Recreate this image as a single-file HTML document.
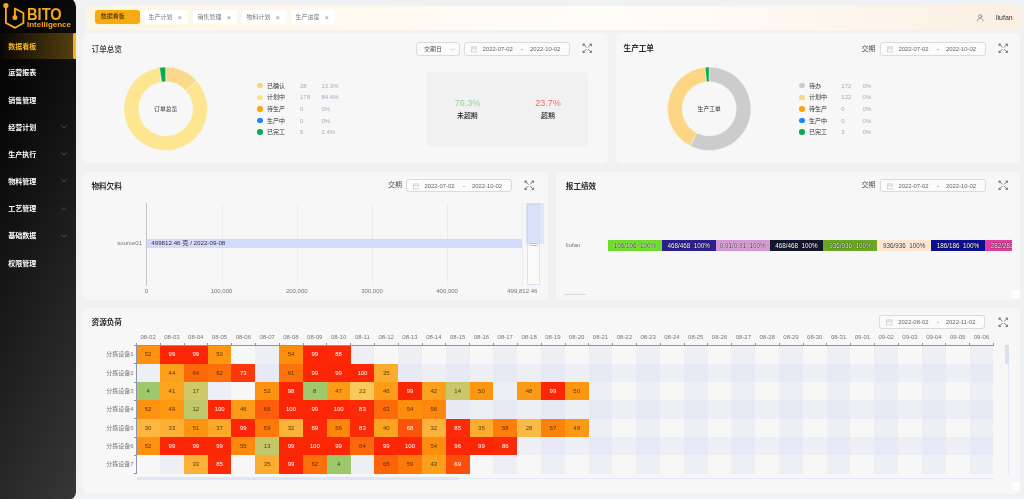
<!DOCTYPE html>
<html lang="zh-CN"><head><meta charset="utf-8"><title>BITO Intelligence</title>
<style>
*{box-sizing:border-box;margin:0;padding:0}
html,body{width:1024px;height:499px;overflow:hidden}
body{position:relative;background:#f0f1f3;font-family:"Liberation Sans","Noto Sans CJK SC",sans-serif;color:#333;font-size:6px;line-height:1}
.abs{position:absolute}
div,span,i,svg{position:absolute}
.side{left:0;top:-3px;width:75.8px;height:503px;background:linear-gradient(114.6deg,#060606 0%,#060606 17%,#373737 100%);border-top-right-radius:10px;border-bottom-right-radius:8px;overflow:hidden}
.bito{left:26.8px;top:9.1px;font-size:16px;font-weight:bold;color:#f5a816;letter-spacing:0;transform:scaleX(0.915);transform-origin:0 0;line-height:18px}
.intel{left:27px;top:22.6px;font-size:8px;font-weight:bold;color:#f5a816;line-height:10px}
.mact{left:0;width:75.8px;height:26.4px;background:linear-gradient(90deg,#090806 0%,#2a1f08 40%,#57410f 100%)}
.mbar{left:72.9px;width:2.9px;height:26.4px;background:#f5b01e;border-radius:1.5px 0 0 1.5px}
.mi{left:8.3px;font-size:7px;font-weight:bold;color:#fff;line-height:12px;white-space:nowrap}
.mi.act{color:#f8b820}
.hdr{left:86.5px;top:5.5px;width:934px;height:24.2px;border-radius:4px;background:linear-gradient(90deg,#fdf6e1 0%,#fef9ee 25%,#fffdfa 55%,#fdf6ee 80%,#fbefe2 100%);box-shadow:0 0 3px rgba(255,250,235,.9)}
.tab{top:9.9px;width:44.5px;height:13.9px;border-radius:3px;background:#fff;color:#7a7a7a;font-size:6px;line-height:13.9px;white-space:nowrap}
.tab span{left:4.8px;top:0.8px}
.tab i{left:34px;top:1.5px;font-style:normal;font-size:7px;color:#8a8a8a;font-weight:normal}
.tab.tact{background:#f6ab13;color:#3a2a05;width:45px}
.tab.tact span{left:6px;top:-0.2px}
.user{left:996px;top:13px;font-size:7px;line-height:10px;color:#333}
.card{background:#f7f7f7;border-radius:5px}
.ttl{font-size:7.6px;font-weight:bold;color:#2b2b2b;line-height:12px;white-space:nowrap}
.ttl.n{font-weight:500;color:#333}
.dp{border:0.6px solid #d9dbe0;border-radius:3px;background:#fbfbfb;color:#666;font-size:5.9px;line-height:12.6px;white-space:nowrap}
.dp .cal{left:6px;top:3.2px}
.dp .d1{left:18px;top:0}
.dp .ds{left:56.5px;top:0}
.dp .d2{left:65.5px;top:0}
.sel{border:0.6px solid #d9dbe0;border-radius:3px;background:#fbfbfb;color:#555;font-size:6px;line-height:12.6px}
.lbl{font-size:7px;color:#555;line-height:12px;white-space:nowrap}
.ld{width:5.6px;height:5.6px;border-radius:50%}
.lt{font-size:6px;line-height:10px;color:#333;white-space:nowrap}
.ln{font-size:6px;line-height:10px;color:#a3abbb;white-space:nowrap}
.kpi{left:427px;top:72px;width:161.4px;height:74px;border-radius:4px;background:#f1f1f1}
.kv{font-size:9px;line-height:12px;width:60px;text-align:center;white-space:nowrap}
.kl{font-size:6.9px;line-height:10px;width:60px;text-align:center;color:#222;font-weight:500;white-space:nowrap}
.ctr{font-size:5.8px;line-height:10px;width:60px;text-align:center;color:#333;white-space:nowrap}
.gl{width:0.5px;background:#ebecf1;top:203px;height:82.5px}
.axl{font-size:6px;line-height:10px;color:#777;width:60px;text-align:center;white-space:nowrap}
.seg{top:240px;width:53.9px;height:11.2px;font-size:6.3px;line-height:11.2px;text-align:center;color:#333;white-space:pre;text-shadow:0 0 1px #fff,0 0 1px #fff}
.seg.sw{color:#fff;text-shadow:0 0 1px #000,0 0 1px #000}
.band{background:rgba(208,213,242,0.21)}
.cell{width:23.86px;height:18.4px;font-size:6px;line-height:18.4px;text-align:center;color:rgba(60,40,10,.85)}
.cell.w{color:#fff}
.xl{top:332px;width:23.85px;text-align:center;font-size:6px;line-height:10px;color:#777;white-space:nowrap}
.xt{top:342.5px;width:0.5px;height:2.5px;background:#8d93a8}
.yl{left:80px;width:53.6px;height:18.4px;line-height:18.4px;text-align:right;font-size:6px;color:#777;white-space:nowrap}
.yt{left:134.2px;width:2.3px;height:0.5px;background:#8d93a8}
</style></head><body><div id="wrap" style="left:-10px;top:-10px;width:1044px;height:519px;filter:blur(0.35px)"><div style="left:10px;top:10px;width:1024px;height:499px">
<!-- sidebar -->
<div class="side">
<svg class="abs" style="left:0;top:3px" width="30" height="32" viewBox="0 0 30 32" fill="none" stroke="#f5a816" stroke-width="1.9" stroke-linejoin="round" stroke-linecap="round"><path d="M5.9 8V23L15.2 27.8L23.4 23V13L14.9 8.5V16"/><circle cx="5.9" cy="5.6" r="2" fill="#f5a816" stroke-width="1.3"/><circle cx="14.9" cy="17.6" r="1.9" fill="#f5a816" stroke-width="1.2"/></svg>
<div class="bito">BITO</div>
<div class="intel">Intelligence</div>
<div class="mact" style="top:35.6px"></div><div class="mbar" style="top:35.6px"></div>
<div class="mi act" style="top:44.0px">数据看板</div>
<div class="mi" style="top:70.4px">运营报表</div>
<div class="mi" style="top:97.6px">销售管理</div>
<div class="mi" style="top:124.6px">经营计划</div>
<svg class="abs" style="left:61px;top:128.0px" width="6" height="4" viewBox="0 0 12 8" fill="none" stroke="#5a5a5a" stroke-width="1.6" stroke-linecap="round" stroke-linejoin="round"><path d="M1.5 1.5L6 6L10.5 1.5"/></svg>
<div class="mi" style="top:151.8px">生产执行</div>
<svg class="abs" style="left:61px;top:155.2px" width="6" height="4" viewBox="0 0 12 8" fill="none" stroke="#5a5a5a" stroke-width="1.6" stroke-linecap="round" stroke-linejoin="round"><path d="M1.5 1.5L6 6L10.5 1.5"/></svg>
<div class="mi" style="top:179.0px">物料管理</div>
<svg class="abs" style="left:61px;top:182.4px" width="6" height="4" viewBox="0 0 12 8" fill="none" stroke="#5a5a5a" stroke-width="1.6" stroke-linecap="round" stroke-linejoin="round"><path d="M1.5 1.5L6 6L10.5 1.5"/></svg>
<div class="mi" style="top:206.2px">工艺管理</div>
<svg class="abs" style="left:61px;top:209.6px" width="6" height="4" viewBox="0 0 12 8" fill="none" stroke="#5a5a5a" stroke-width="1.6" stroke-linecap="round" stroke-linejoin="round"><path d="M1.5 1.5L6 6L10.5 1.5"/></svg>
<div class="mi" style="top:233.4px">基础数据</div>
<svg class="abs" style="left:61px;top:236.8px" width="6" height="4" viewBox="0 0 12 8" fill="none" stroke="#5a5a5a" stroke-width="1.6" stroke-linecap="round" stroke-linejoin="round"><path d="M1.5 1.5L6 6L10.5 1.5"/></svg>
<div class="mi" style="top:260.6px">权限管理</div>
</div>
<!-- header -->
<div class="hdr"></div>
<div class="tab tact" style="left:94.7px"><span>数据看板</span></div>
<div class="tab" style="left:143.7px"><span>生产计划</span><i>×</i></div>
<div class="tab" style="left:192.7px"><span>销售管理</span><i>×</i></div>
<div class="tab" style="left:241.7px"><span>物料计划</span><i>×</i></div>
<div class="tab" style="left:290.7px"><span>生产进度</span><i>×</i></div>
<svg class="abs" style="left:977px;top:14.2px" width="6.5" height="7.5" viewBox="0 0 13 15" fill="none" stroke="#777" stroke-width="1.4" stroke-linecap="round"><circle cx="6.5" cy="4.6" r="3.2"/><path d="M1.2 14V12.5C1.2 10 3.5 8.6 6.5 8.6S11.8 10 11.8 12.5V14"/></svg>
<div class="user">liufan</div>

<!-- card 1 -->
<div class="card" style="left:83.3px;top:33px;width:524.5px;height:129.5px"></div>
<div class="ttl n" style="left:91.6px;top:43.6px">订单总览</div>
<div class="sel" style="left:416.4px;top:42px;width:43.2px;height:13.6px"><span style="left:6.5px;top:0">交期日</span><svg class="abs" style="left:32.5px;top:4.6px" width="5" height="3.4" viewBox="0 0 10 7" fill="none" stroke="#c0c4cc" stroke-width="1.4" stroke-linecap="round" stroke-linejoin="round"><path d="M1 1L5 5.5L9 1"/></svg></div>
<div class="dp" style="left:463.6px;top:42px;width:106.2px;height:13.6px"><svg class="cal" width="6.5" height="6.5" viewBox="0 0 13 13" fill="none" stroke="#c3c6cc" stroke-width="1.3"><rect x="1" y="2" width="11" height="10"/><path d="M1 5.5H12M4 0.5V3M9 0.5V3"/></svg><span class="d1">2022-07-02</span><span class="ds">-</span><span class="d2">2022-10-02</span></div>
<svg class="abs" style="left:582.3px;top:43.2px" width="10.5" height="10.5" viewBox="0 0 20 20" fill="none" stroke="#7f8286" stroke-width="1.9" stroke-linecap="round" stroke-linejoin="round"><path d="M2.4 2.4L8 8M17.6 2.4L12 8M2.4 17.6L8 12M17.6 17.6L12 12"/><path d="M2.2 4.6V2.2H4.6M15.4 2.2H17.8V4.6M2.2 15.4V17.8H4.6M15.4 17.8H17.8V15.4" stroke-width="2.6"/></svg>
<svg class="abs" style="left:0;top:0" width="1024" height="499" viewBox="0 0 1024 499">
<path d="M165.70 67.10A41.7 41.7 0 0 1 196.58 80.77L185.77 90.59A27.1 27.1 0 0 0 165.70 81.70Z" fill="#fbd98c" stroke="#f7f7f7" stroke-width="0.5"/>
<path d="M196.58 80.77A41.7 41.7 0 1 1 159.51 67.56L161.68 82.00A27.1 27.1 0 1 0 185.77 90.59Z" fill="#fde68f" stroke="#f7f7f7" stroke-width="0.5"/>
<path d="M159.51 67.56A41.7 41.7 0 0 1 165.70 67.10L165.70 81.70A27.1 27.1 0 0 0 161.68 82.00Z" fill="#0bab4f" stroke="#f7f7f7" stroke-width="0.5"/>
</svg>
<div class="ctr" style="left:135.7px;top:103.6px">订单总览</div>
<div class="ld" style="left:257.2px;top:82.8px;background:#fdd27a"></div>
<div class="lt" style="left:267.0px;top:80.6px">已确认</div>
<div class="ln" style="left:300.0px;top:80.6px">28</div>
<div class="ln" style="left:321.5px;top:80.6px">13.3%</div>
<div class="ld" style="left:257.2px;top:94.5px;background:#fde38a"></div>
<div class="lt" style="left:267.0px;top:92.3px">计划中</div>
<div class="ln" style="left:300.0px;top:92.3px">178</div>
<div class="ln" style="left:321.5px;top:92.3px">84.4%</div>
<div class="ld" style="left:257.2px;top:106.1px;background:#fda40a"></div>
<div class="lt" style="left:267.0px;top:103.9px">待生产</div>
<div class="ln" style="left:300.0px;top:103.9px">0</div>
<div class="ln" style="left:321.5px;top:103.9px">0%</div>
<div class="ld" style="left:257.2px;top:117.8px;background:#1787fb"></div>
<div class="lt" style="left:267.0px;top:115.6px">生产中</div>
<div class="ln" style="left:300.0px;top:115.6px">0</div>
<div class="ln" style="left:321.5px;top:115.6px">0%</div>
<div class="ld" style="left:257.2px;top:129.4px;background:#09ad4b"></div>
<div class="lt" style="left:267.0px;top:127.2px">已完工</div>
<div class="ln" style="left:300.0px;top:127.2px">5</div>
<div class="ln" style="left:321.5px;top:127.2px">2.4%</div>
<div class="kpi"></div>
<div class="kv" style="left:437.4px;top:97px;color:#93d493">76.3%</div>
<div class="kl" style="left:437.4px;top:110.5px">未超期</div>
<div class="kv" style="left:518px;top:97px;color:#f36c6c">23.7%</div>
<div class="kl" style="left:518px;top:110.5px">超期</div>

<!-- card 2 -->
<div class="card" style="left:616px;top:33px;width:404px;height:129.5px"></div>
<div class="ttl" style="left:623.6px;top:43.3px">生产工单</div>
<div class="lbl" style="left:861.6px;top:42.6px">交期</div>
<div class="dp" style="left:879.5px;top:42px;width:106px;height:13.6px"><svg class="cal" width="6.5" height="6.5" viewBox="0 0 13 13" fill="none" stroke="#c3c6cc" stroke-width="1.3"><rect x="1" y="2" width="11" height="10"/><path d="M1 5.5H12M4 0.5V3M9 0.5V3"/></svg><span class="d1">2022-07-02</span><span class="ds">-</span><span class="d2">2022-10-02</span></div>
<svg class="abs" style="left:997.7px;top:43.2px" width="10.5" height="10.5" viewBox="0 0 20 20" fill="none" stroke="#7f8286" stroke-width="1.9" stroke-linecap="round" stroke-linejoin="round"><path d="M2.4 2.4L8 8M17.6 2.4L12 8M2.4 17.6L8 12M17.6 17.6L12 12"/><path d="M2.2 4.6V2.2H4.6M15.4 2.2H17.8V4.6M2.2 15.4V17.8H4.6M15.4 17.8H17.8V15.4" stroke-width="2.6"/></svg>
<svg class="abs" style="left:0;top:0" width="1024" height="499" viewBox="0 0 1024 499">
<path d="M709.20 67.10A41.7 41.7 0 1 1 690.06 145.85L696.76 132.88A27.1 27.1 0 1 0 709.20 81.70Z" fill="#cccccc" stroke="#f7f7f7" stroke-width="0.5"/>
<path d="M690.06 145.85A41.7 41.7 0 0 1 705.12 67.30L706.55 81.83A27.1 27.1 0 0 0 696.76 132.88Z" fill="#fcd684" stroke="#f7f7f7" stroke-width="0.5"/>
<path d="M705.12 67.30A41.7 41.7 0 0 1 709.20 67.10L709.20 81.70A27.1 27.1 0 0 0 706.55 81.83Z" fill="#0bab4f" stroke="#f7f7f7" stroke-width="0.5"/>
</svg>
<div class="ctr" style="left:679.2px;top:103.6px">生产工单</div>
<div class="ld" style="left:799.2px;top:82.8px;background:#cccccc"></div>
<div class="lt" style="left:809.0px;top:80.6px">待办</div>
<div class="ln" style="left:841.3px;top:80.6px">172</div>
<div class="ln" style="left:862.6px;top:80.6px">0%</div>
<div class="ld" style="left:799.2px;top:94.5px;background:#fcd684"></div>
<div class="lt" style="left:809.0px;top:92.3px">计划中</div>
<div class="ln" style="left:841.3px;top:92.3px">122</div>
<div class="ln" style="left:862.6px;top:92.3px">0%</div>
<div class="ld" style="left:799.2px;top:106.1px;background:#fda40a"></div>
<div class="lt" style="left:809.0px;top:103.9px">待生产</div>
<div class="ln" style="left:841.3px;top:103.9px">0</div>
<div class="ln" style="left:862.6px;top:103.9px">0%</div>
<div class="ld" style="left:799.2px;top:117.8px;background:#1787fb"></div>
<div class="lt" style="left:809.0px;top:115.6px">生产中</div>
<div class="ln" style="left:841.3px;top:115.6px">0</div>
<div class="ln" style="left:862.6px;top:115.6px">0%</div>
<div class="ld" style="left:799.2px;top:129.4px;background:#09ad4b"></div>
<div class="lt" style="left:809.0px;top:127.2px">已完工</div>
<div class="ln" style="left:841.3px;top:127.2px">3</div>
<div class="ln" style="left:862.6px;top:127.2px">0%</div>

<!-- card 3 -->
<div class="card" style="left:83.3px;top:171.5px;width:464.7px;height:128.5px"></div>
<div class="ttl" style="left:91.4px;top:181px">物料欠料</div>
<div class="lbl" style="left:388px;top:179.3px">交期</div>
<div class="dp" style="left:405.5px;top:179px;width:106px;height:12.6px"><svg class="cal" width="6.5" height="6.5" viewBox="0 0 13 13" fill="none" stroke="#c3c6cc" stroke-width="1.3"><rect x="1" y="2" width="11" height="10"/><path d="M1 5.5H12M4 0.5V3M9 0.5V3"/></svg><span class="d1">2022-07-02</span><span class="ds">-</span><span class="d2">2022-10-02</span></div>
<svg class="abs" style="left:524.2px;top:179.8px" width="10.5" height="10.5" viewBox="0 0 20 20" fill="none" stroke="#7f8286" stroke-width="1.9" stroke-linecap="round" stroke-linejoin="round"><path d="M2.4 2.4L8 8M17.6 2.4L12 8M2.4 17.6L8 12M17.6 17.6L12 12"/><path d="M2.2 4.6V2.2H4.6M15.4 2.2H17.8V4.6M2.2 15.4V17.8H4.6M15.4 17.8H17.8V15.4" stroke-width="2.6"/></svg>
<div class="gl" style="left:221.5px"></div><div class="gl" style="left:296.8px"></div><div class="gl" style="left:372px"></div><div class="gl" style="left:447.1px"></div><div class="gl" style="left:522.3px"></div>
<div style="left:146px;top:203px;width:0.6px;height:82.7px;background:#c2c4cb"></div>
<div style="left:146.5px;top:238.5px;width:375.8px;height:9.4px;background:#d4dafb"></div>
<div style="left:151.3px;top:238.3px;font-size:6.2px;line-height:10px;color:#333;white-space:nowrap">499812.46 克 / 2022-09-08</div>
<div style="left:82px;top:237.8px;width:60px;text-align:right;font-size:6px;line-height:10px;color:#777">source01</div>
<div class="axl" style="left:116.3px;top:285.6px">0</div>
<div class="axl" style="left:191.5px;top:285.6px">100,000</div>
<div class="axl" style="left:266.8px;top:285.6px">200,000</div>
<div class="axl" style="left:342px;top:285.6px">300,000</div>
<div class="axl" style="left:417.1px;top:285.6px">400,000</div>
<div class="axl" style="left:492.3px;top:285.6px">499,812.46</div>
<div style="left:527px;top:203.5px;width:13.2px;height:81.2px;border:0.6px solid #dbe1f1;background:#fafafa"></div>
<div style="left:526.4px;top:203.4px;width:14px;height:41px;background:rgba(196,210,246,0.62)"></div>
<div style="left:540.4px;top:203.4px;width:3.8px;height:41px;background:rgba(205,216,245,0.55)"></div>
<div style="left:529.3px;top:243px;width:8.6px;height:2.8px;border-radius:1.4px;background:#fff;border:0.5px solid #b9c5e6"></div>

<!-- card 4 -->
<div class="card" style="left:555.5px;top:171.5px;width:464.5px;height:128.5px;overflow:hidden"></div>
<div class="ttl" style="left:565.8px;top:181px">报工绩效</div>
<div class="lbl" style="left:861.6px;top:179.3px">交期</div>
<div class="dp" style="left:879.5px;top:179px;width:106px;height:12.6px"><svg class="cal" width="6.5" height="6.5" viewBox="0 0 13 13" fill="none" stroke="#c3c6cc" stroke-width="1.3"><rect x="1" y="2" width="11" height="10"/><path d="M1 5.5H12M4 0.5V3M9 0.5V3"/></svg><span class="d1">2022-07-02</span><span class="ds">-</span><span class="d2">2022-10-02</span></div>
<svg class="abs" style="left:997.7px;top:179.8px" width="10.5" height="10.5" viewBox="0 0 20 20" fill="none" stroke="#7f8286" stroke-width="1.9" stroke-linecap="round" stroke-linejoin="round"><path d="M2.4 2.4L8 8M17.6 2.4L12 8M2.4 17.6L8 12M17.6 17.6L12 12"/><path d="M2.2 4.6V2.2H4.6M15.4 2.2H17.8V4.6M2.2 15.4V17.8H4.6M15.4 17.8H17.8V15.4" stroke-width="2.6"/></svg>
<div style="left:566px;top:240px;font-size:6px;line-height:10px;color:#777">liufan</div>
<div style="left:600px;top:236px;width:412px;height:20px;overflow:hidden"><div style="left:-600px;top:-236px;width:1024px;height:499px">
<div class="seg" style="left:608.00px;background:#6fdc2c">106/106  100%</div>
<div class="seg sw" style="left:661.85px;background:#2d1f8f">468/468  100%</div>
<div class="seg" style="left:715.70px;background:#d597d3">0.91/0.91  100%</div>
<div class="seg sw" style="left:769.55px;background:#14162b">468/468  100%</div>
<div class="seg sw" style="left:823.40px;background:#6aa820">936/936  100%</div>
<div class="seg" style="left:877.25px;background:#fde5cf">936/936  100%</div>
<div class="seg sw" style="left:931.10px;background:#0d0f90">186/186  100%</div>
<div class="seg sw" style="left:984.95px;background:#e23b9f">282/282  100%</div>
</div></div>
<div style="left:564px;top:294.2px;width:22.3px;height:0.9px;background:#d9d9d9;border-radius:1px"></div>
<div style="left:1012px;top:290px;width:7.5px;height:7.5px;background:#fdfdfd"></div>

<!-- card 5 -->
<div class="card" style="left:83.3px;top:308px;width:936.7px;height:185.5px"></div>
<div class="ttl" style="left:91.6px;top:317.2px">资源负荷</div>
<div class="dp" style="left:879.3px;top:315.2px;width:106px;height:13.6px"><svg class="cal" width="6.5" height="6.5" viewBox="0 0 13 13" fill="none" stroke="#c3c6cc" stroke-width="1.3"><rect x="1" y="2" width="11" height="10"/><path d="M1 5.5H12M4 0.5V3M9 0.5V3"/></svg><span class="d1">2022-08-02</span><span class="ds">-</span><span class="d2">2022-11-02</span></div>
<svg class="abs" style="left:997.7px;top:316.5px" width="10.5" height="10.5" viewBox="0 0 20 20" fill="none" stroke="#7f8286" stroke-width="1.9" stroke-linecap="round" stroke-linejoin="round"><path d="M2.4 2.4L8 8M17.6 2.4L12 8M2.4 17.6L8 12M17.6 17.6L12 12"/><path d="M2.2 4.6V2.2H4.6M15.4 2.2H17.8V4.6M2.2 15.4V17.8H4.6M15.4 17.8H17.8V15.4" stroke-width="2.6"/></svg>
<div class="band" style="left:160.01px;top:345.2px;width:23.81px;height:128.38px"></div>
<div class="band" style="left:207.63px;top:345.2px;width:23.81px;height:128.38px"></div>
<div class="band" style="left:255.25px;top:345.2px;width:23.81px;height:128.38px"></div>
<div class="band" style="left:302.87px;top:345.2px;width:23.81px;height:128.38px"></div>
<div class="band" style="left:350.49px;top:345.2px;width:23.81px;height:128.38px"></div>
<div class="band" style="left:398.11px;top:345.2px;width:23.81px;height:128.38px"></div>
<div class="band" style="left:445.73px;top:345.2px;width:23.81px;height:128.38px"></div>
<div class="band" style="left:493.35px;top:345.2px;width:23.81px;height:128.38px"></div>
<div class="band" style="left:540.97px;top:345.2px;width:23.81px;height:128.38px"></div>
<div class="band" style="left:588.59px;top:345.2px;width:23.81px;height:128.38px"></div>
<div class="band" style="left:636.21px;top:345.2px;width:23.81px;height:128.38px"></div>
<div class="band" style="left:683.83px;top:345.2px;width:23.81px;height:128.38px"></div>
<div class="band" style="left:731.45px;top:345.2px;width:23.81px;height:128.38px"></div>
<div class="band" style="left:779.07px;top:345.2px;width:23.81px;height:128.38px"></div>
<div class="band" style="left:826.69px;top:345.2px;width:23.81px;height:128.38px"></div>
<div class="band" style="left:874.31px;top:345.2px;width:23.81px;height:128.38px"></div>
<div class="band" style="left:921.93px;top:345.2px;width:23.81px;height:128.38px"></div>
<div class="band" style="left:969.55px;top:345.2px;width:23.81px;height:128.38px"></div>
<div class="band" style="left:136.2px;top:363.54px;width:857.16px;height:18.34px"></div>
<div class="band" style="left:136.2px;top:400.22px;width:857.16px;height:18.34px"></div>
<div class="band" style="left:136.2px;top:436.90px;width:857.16px;height:18.34px"></div>
<div class="cell" style="left:136.20px;top:345.20px;background:#fd9210">52</div>
<div class="cell w" style="left:160.01px;top:345.20px;background:#fb2606">99</div>
<div class="cell w" style="left:183.82px;top:345.20px;background:#fb2606">99</div>
<div class="cell" style="left:207.63px;top:345.20px;background:#fd9712">50</div>
<div class="cell" style="left:279.06px;top:345.20px;background:#fd8d0d">54</div>
<div class="cell w" style="left:302.87px;top:345.20px;background:#fb2606">99</div>
<div class="cell w" style="left:326.68px;top:345.20px;background:#fb2907">88</div>
<div class="cell" style="left:160.01px;top:363.54px;background:#fc9f1a">44</div>
<div class="cell" style="left:183.82px;top:363.54px;background:#fd680a">64</div>
<div class="cell" style="left:207.63px;top:363.54px;background:#fd6f0a">62</div>
<div class="cell w" style="left:231.44px;top:363.54px;background:#fb3809">73</div>
<div class="cell" style="left:279.06px;top:363.54px;background:#fd720a">61</div>
<div class="cell w" style="left:302.87px;top:363.54px;background:#fb2606">99</div>
<div class="cell w" style="left:326.68px;top:363.54px;background:#fb2606">99</div>
<div class="cell w" style="left:350.49px;top:363.54px;background:#fb2606">100</div>
<div class="cell" style="left:374.30px;top:363.54px;background:#fcad30">35</div>
<div class="cell" style="left:136.20px;top:381.88px;background:#9ec86c">4</div>
<div class="cell" style="left:160.01px;top:381.88px;background:#fca31f">41</div>
<div class="cell" style="left:183.82px;top:381.88px;background:#d2c867">17</div>
<div class="cell" style="left:255.25px;top:381.88px;background:#fd9210">52</div>
<div class="cell w" style="left:279.06px;top:381.88px;background:#fb2706">98</div>
<div class="cell" style="left:302.87px;top:381.88px;background:#a0c86c">8</div>
<div class="cell" style="left:326.68px;top:381.88px;background:#fd9b16">47</div>
<div class="cell" style="left:350.49px;top:381.88px;background:#f8c85a">22</div>
<div class="cell" style="left:374.30px;top:381.88px;background:#fd9c18">46</div>
<div class="cell w" style="left:398.11px;top:381.88px;background:#fb2606">99</div>
<div class="cell" style="left:421.92px;top:381.88px;background:#fca11d">42</div>
<div class="cell" style="left:445.73px;top:381.88px;background:#c8c769">14</div>
<div class="cell" style="left:469.54px;top:381.88px;background:#fd9712">50</div>
<div class="cell" style="left:517.16px;top:381.88px;background:#fd9a15">48</div>
<div class="cell w" style="left:540.97px;top:381.88px;background:#fb2606">99</div>
<div class="cell" style="left:564.78px;top:381.88px;background:#fd9712">50</div>
<div class="cell" style="left:136.20px;top:400.22px;background:#fd9210">52</div>
<div class="cell" style="left:160.01px;top:400.22px;background:#fd9813">49</div>
<div class="cell" style="left:183.82px;top:400.22px;background:#c2c66a">12</div>
<div class="cell w" style="left:207.63px;top:400.22px;background:#fb2606">100</div>
<div class="cell" style="left:231.44px;top:400.22px;background:#fd9c18">46</div>
<div class="cell" style="left:255.25px;top:400.22px;background:#fd5e0a">66</div>
<div class="cell w" style="left:279.06px;top:400.22px;background:#fb2606">100</div>
<div class="cell w" style="left:302.87px;top:400.22px;background:#fb2606">99</div>
<div class="cell w" style="left:326.68px;top:400.22px;background:#fb2606">100</div>
<div class="cell w" style="left:350.49px;top:400.22px;background:#fb2b07">83</div>
<div class="cell" style="left:374.30px;top:400.22px;background:#fd6b0a">63</div>
<div class="cell" style="left:398.11px;top:400.22px;background:#fd8d0d">54</div>
<div class="cell" style="left:421.92px;top:400.22px;background:#fd860c">56</div>
<div class="cell" style="left:136.20px;top:418.56px;background:#fcb640">30</div>
<div class="cell" style="left:160.01px;top:418.56px;background:#fcb136">33</div>
<div class="cell" style="left:183.82px;top:418.56px;background:#fd9411">51</div>
<div class="cell" style="left:207.63px;top:418.56px;background:#fca92a">37</div>
<div class="cell w" style="left:231.44px;top:418.56px;background:#fb2606">99</div>
<div class="cell" style="left:255.25px;top:418.56px;background:#fd7a0a">59</div>
<div class="cell" style="left:279.06px;top:418.56px;background:#fcb23a">32</div>
<div class="cell w" style="left:302.87px;top:418.56px;background:#fb2907">89</div>
<div class="cell" style="left:326.68px;top:418.56px;background:#fd860c">56</div>
<div class="cell w" style="left:350.49px;top:418.56px;background:#fb2b07">83</div>
<div class="cell" style="left:374.30px;top:418.56px;background:#fca420">40</div>
<div class="cell w" style="left:398.11px;top:418.56px;background:#fc530a">68</div>
<div class="cell" style="left:421.92px;top:418.56px;background:#fcb23a">32</div>
<div class="cell w" style="left:445.73px;top:418.56px;background:#fb2a07">85</div>
<div class="cell" style="left:469.54px;top:418.56px;background:#fcad30">35</div>
<div class="cell" style="left:493.35px;top:418.56px;background:#fd7e0b">58</div>
<div class="cell" style="left:517.16px;top:418.56px;background:#fbba46">28</div>
<div class="cell" style="left:540.97px;top:418.56px;background:#fd820b">57</div>
<div class="cell" style="left:564.78px;top:418.56px;background:#fd9813">49</div>
<div class="cell" style="left:136.20px;top:436.90px;background:#fd9210">52</div>
<div class="cell w" style="left:160.01px;top:436.90px;background:#fb2606">99</div>
<div class="cell w" style="left:183.82px;top:436.90px;background:#fb2606">99</div>
<div class="cell w" style="left:207.63px;top:436.90px;background:#fb2606">99</div>
<div class="cell" style="left:231.44px;top:436.90px;background:#fd8a0c">55</div>
<div class="cell" style="left:255.25px;top:436.90px;background:#c5c669">13</div>
<div class="cell w" style="left:279.06px;top:436.90px;background:#fb2606">99</div>
<div class="cell w" style="left:302.87px;top:436.90px;background:#fb2606">100</div>
<div class="cell w" style="left:326.68px;top:436.90px;background:#fb2606">99</div>
<div class="cell" style="left:350.49px;top:436.90px;background:#fd680a">64</div>
<div class="cell w" style="left:374.30px;top:436.90px;background:#fb2606">99</div>
<div class="cell w" style="left:398.11px;top:436.90px;background:#fb2606">100</div>
<div class="cell" style="left:421.92px;top:436.90px;background:#fd8d0d">54</div>
<div class="cell w" style="left:445.73px;top:436.90px;background:#fb2706">96</div>
<div class="cell w" style="left:469.54px;top:436.90px;background:#fb2606">99</div>
<div class="cell w" style="left:493.35px;top:436.90px;background:#fb2a07">86</div>
<div class="cell" style="left:183.82px;top:455.24px;background:#fcb136">33</div>
<div class="cell w" style="left:207.63px;top:455.24px;background:#fb2a07">85</div>
<div class="cell" style="left:255.25px;top:455.24px;background:#fcad30">35</div>
<div class="cell w" style="left:279.06px;top:455.24px;background:#fb2606">99</div>
<div class="cell" style="left:302.87px;top:455.24px;background:#fd6f0a">62</div>
<div class="cell" style="left:326.68px;top:455.24px;background:#9ec86c">4</div>
<div class="cell" style="left:374.30px;top:455.24px;background:#fd640a">65</div>
<div class="cell" style="left:398.11px;top:455.24px;background:#fd7a0a">59</div>
<div class="cell" style="left:421.92px;top:455.24px;background:#fca01c">43</div>
<div class="cell w" style="left:445.73px;top:455.24px;background:#fc4e0a">69</div>
<div class="xl" style="left:136.20px">08-02</div>
<div class="xl" style="left:160.01px">08-03</div>
<div class="xl" style="left:183.82px">08-04</div>
<div class="xl" style="left:207.63px">08-05</div>
<div class="xl" style="left:231.44px">08-06</div>
<div class="xl" style="left:255.25px">08-07</div>
<div class="xl" style="left:279.06px">08-08</div>
<div class="xl" style="left:302.87px">08-09</div>
<div class="xl" style="left:326.68px">08-10</div>
<div class="xl" style="left:350.49px">08-11</div>
<div class="xl" style="left:374.30px">08-12</div>
<div class="xl" style="left:398.11px">08-13</div>
<div class="xl" style="left:421.92px">08-14</div>
<div class="xl" style="left:445.73px">08-15</div>
<div class="xl" style="left:469.54px">08-16</div>
<div class="xl" style="left:493.35px">08-17</div>
<div class="xl" style="left:517.16px">08-18</div>
<div class="xl" style="left:540.97px">08-19</div>
<div class="xl" style="left:564.78px">08-20</div>
<div class="xl" style="left:588.59px">08-21</div>
<div class="xl" style="left:612.40px">08-22</div>
<div class="xl" style="left:636.21px">08-23</div>
<div class="xl" style="left:660.02px">08-24</div>
<div class="xl" style="left:683.83px">08-25</div>
<div class="xl" style="left:707.64px">08-26</div>
<div class="xl" style="left:731.45px">08-27</div>
<div class="xl" style="left:755.26px">08-28</div>
<div class="xl" style="left:779.07px">08-29</div>
<div class="xl" style="left:802.88px">08-30</div>
<div class="xl" style="left:826.69px">08-31</div>
<div class="xl" style="left:850.50px">09-01</div>
<div class="xl" style="left:874.31px">09-02</div>
<div class="xl" style="left:898.12px">09-03</div>
<div class="xl" style="left:921.93px">09-04</div>
<div class="xl" style="left:945.74px">09-05</div>
<div class="xl" style="left:969.55px">09-06</div>
<div class="xt" style="left:135.95px"></div>
<div class="xt" style="left:159.76px"></div>
<div class="xt" style="left:183.57px"></div>
<div class="xt" style="left:207.38px"></div>
<div class="xt" style="left:231.19px"></div>
<div class="xt" style="left:255.00px"></div>
<div class="xt" style="left:278.81px"></div>
<div class="xt" style="left:302.62px"></div>
<div class="xt" style="left:326.43px"></div>
<div class="xt" style="left:350.24px"></div>
<div class="xt" style="left:374.05px"></div>
<div class="xt" style="left:397.86px"></div>
<div class="xt" style="left:421.67px"></div>
<div class="xt" style="left:445.48px"></div>
<div class="xt" style="left:469.29px"></div>
<div class="xt" style="left:493.10px"></div>
<div class="xt" style="left:516.91px"></div>
<div class="xt" style="left:540.72px"></div>
<div class="xt" style="left:564.53px"></div>
<div class="xt" style="left:588.34px"></div>
<div class="xt" style="left:612.15px"></div>
<div class="xt" style="left:635.96px"></div>
<div class="xt" style="left:659.77px"></div>
<div class="xt" style="left:683.58px"></div>
<div class="xt" style="left:707.39px"></div>
<div class="xt" style="left:731.20px"></div>
<div class="xt" style="left:755.01px"></div>
<div class="xt" style="left:778.82px"></div>
<div class="xt" style="left:802.63px"></div>
<div class="xt" style="left:826.44px"></div>
<div class="xt" style="left:850.25px"></div>
<div class="xt" style="left:874.06px"></div>
<div class="xt" style="left:897.87px"></div>
<div class="xt" style="left:921.68px"></div>
<div class="xt" style="left:945.49px"></div>
<div class="xt" style="left:969.30px"></div>
<div class="xt" style="left:993.11px"></div>
<div class="yl" style="top:345.20px">分拣设备1</div>
<div class="yl" style="top:363.54px">分拣设备2</div>
<div class="yl" style="top:381.88px">分拣设备3</div>
<div class="yl" style="top:400.22px">分拣设备4</div>
<div class="yl" style="top:418.56px">分拣设备5</div>
<div class="yl" style="top:436.90px">分拣设备6</div>
<div class="yl" style="top:455.24px">分拣设备7</div>
<div class="yt" style="top:344.95px"></div>
<div class="yt" style="top:363.29px"></div>
<div class="yt" style="top:381.63px"></div>
<div class="yt" style="top:399.97px"></div>
<div class="yt" style="top:418.31px"></div>
<div class="yt" style="top:436.65px"></div>
<div class="yt" style="top:454.99px"></div>
<div class="yt" style="top:473.33px"></div>
<div style="left:136.2px;top:344.7px;width:857.4px;height:0.55px;background:#8d93a8"></div>
<div style="left:136.2px;top:344.7px;width:0.55px;height:129px;background:#8d93a8"></div>
<div style="left:136.5px;top:478.3px;width:857px;height:0.8px;background:#e3e8f6"></div>
<div style="left:136.5px;top:477.4px;width:322px;height:3px;background:#dde5f8"></div>
<div style="left:1007.6px;top:345px;width:0.8px;height:128.5px;background:#e3e8f6"></div>
<div style="left:1005.3px;top:345px;width:4px;height:18.6px;background:#d5dff6"></div>
<div style="left:1012px;top:482px;width:7.5px;height:7.5px;background:#fdfdfd"></div>
</div></div></body></html>
